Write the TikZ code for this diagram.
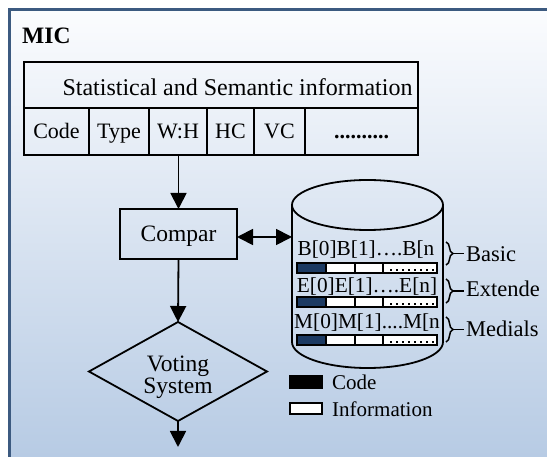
\documentclass[tikz,border=0pt]{standalone}
\usepackage{fontspec}
\setmainfont{Liberation Serif}
\usetikzlibrary{arrows.meta,shapes.geometric,decorations.pathreplacing}
\definecolor{bgtop}{RGB}{251,252,254}
\definecolor{bgbot}{RGB}{183,203,228}
\definecolor{framec}{RGB}{60,90,128}
\definecolor{navy}{RGB}{28,58,98}
\newcommand{\pxfont}[1]{\fontsize{#1}{#1}\selectfont}

\begin{document}
\begin{tikzpicture}[x=1pt,y=-1pt,
  ln/.style={line width=1.8pt},
  thin ln/.style={line width=1.5pt},
  tip/.tip={Triangle[length=16pt 0 0,width=16pt 0 0]},
  arr/.style={ln,-tip},
  darr/.style={ln,tip-tip},
  cell/.style={draw,ln,inner sep=0pt,outer sep=0pt,minimum height=47pt,
    text height=15pt,text depth=0pt,font=\pxfont{22}},
  txt/.style={inner sep=0pt,font=\pxfont{22}},
  rowtxt/.style={inner sep=0pt,anchor=base,font=\pxfont{21.3}},
  lbl/.style={inner sep=0pt,anchor=base west,font=\pxfont{22.5}},
  brc/.style={thin ln,decorate,decoration={brace,amplitude=7pt}},
  bar/.style={thin ln}]

\useasboundingbox (0,0) rectangle (547,457);
% page and shaded panel
\fill[white] (0,0) rectangle (547,457);
\shade[top color=bgtop,bottom color=bgbot] (9,10) rectangle (547,457);
\draw[framec,line width=3pt] (9,457) -- (9,10) -- (547,10);

\node[font=\bfseries\pxfont{23.5},anchor=base west,inner sep=0pt] (mic) at (22,44) {MIC};

% record layout table
\node[draw,ln,inner sep=0pt,outer sep=0pt,minimum width=394pt,minimum height=46pt,
  anchor=north west] (hdr) at (24,62) {};
\node[inner sep=0pt,anchor=base,font=\pxfont{24}] (hdrtxt) at (237.5,96)
  {Statistical and Semantic information};
\node[cell,minimum width=65pt] (ccode) at (56.5,131.5) {Code};
\node[cell,minimum width=60pt] (ctype) at (119,131.5) {Type};
\node[cell,minimum width=58pt] (cwh) at (178,131.5) {W:H};
\node[cell,minimum width=47pt] (chc) at (230.5,131.5) {HC};
\node[cell,minimum width=51pt] (cvc) at (279.5,131.5) {VC};
\node[cell,minimum width=113pt] (cmore) at (361.5,131.5) {\textbf{..........}};

% comparison and voting
\node[draw,ln,inner sep=0pt,outer sep=0pt,minimum width=117pt,minimum height=50pt,
  text height=16pt,text depth=0pt,font=\pxfont{23.5}] (compar) at (178.5,234) {Compar};
\node[diamond,draw,ln,inner sep=0pt,outer sep=0pt,minimum width=178pt,
  minimum height=99pt] (vote) at (178,371.5) {};
\node[inner sep=0pt,align=center,font=\fontsize{23.5}{22.5}\selectfont] (votetxt)
  at (178,377.5) {Voting\\System};
\coordinate (out) at (178,447);

\draw[arr] (compar.north |- cwh.south) -- (compar.north);
\draw[arr] (compar.south) -- (vote.north);
\draw[arr] (vote.south) -- (out);

% database cylinder
\draw[ln] (367.5,205) ellipse [x radius=75.5pt,y radius=25pt];
\draw[ln] (292,205) -- (292,342)
  .. controls (292,356.4) and (325.8,368) .. (367.5,368)
  .. controls (409.2,368) and (443,356.4) .. (443,342) -- (443,205);
\coordinate (dbw) at (292,237);
\draw[darr] ([yshift=-3pt]compar.east) -- (dbw);

% stored rows
\node[rowtxt] (brow) at (366,256) {B[0]B[1]….B[n};
\node[rowtxt] (erow) at (367,293) {E[0]E[1]….E[n]};
\node[rowtxt] (mrow) at (367,329) {M[0]M[1]....M[n};
\foreach \yy in {263,297,335} {
  \fill[white] (326,\yy) rectangle (437,\yy+10);
  \fill[navy] (297,\yy) rectangle (326,\yy+10);
  \draw[bar] (297,\yy) rectangle (437,\yy+10);
  \draw[bar] (326,\yy) -- (326,\yy+10);
  \draw[bar] (355,\yy) -- (355,\yy+10);
  \draw[bar] (383,\yy) -- (383,\yy+10);
  \draw[line width=1.6pt,dash pattern=on 1.6pt off 4.4pt] (390,\yy+7) -- (435,\yy+7);
}

% row groups
\node[lbl] (lbasic) at (466,262) {Basic};
\node[lbl] (lext) at (466,297) {Extende};
\node[lbl] (lmed) at (466,337) {Medials};
\draw[brc] (446,242) -- (446,265);
\draw[brc] (446,279) -- (446,303);
\draw[brc] (446,317) -- (446,342);
\coordinate (bt1) at (453,253.5);
\coordinate (bt2) at (453,291);
\coordinate (bt3) at (453,329.5);
\draw[thin ln,shorten >=2pt] (bt1) -- (bt1 -| lbasic.west);
\draw[thin ln,shorten >=2pt] (bt2) -- (bt2 -| lext.west);
\draw[thin ln,shorten >=2pt] (bt3) -- (bt3 -| lmed.west);

% legend
\node[draw,thin ln,fill=black,inner sep=0pt,minimum width=32pt,minimum height=12pt]
  (kcode) at (306,382) {};
\node[draw,thin ln,fill=white,inner sep=0pt,minimum width=32pt,minimum height=11pt]
  (kinfo) at (306,408.5) {};
\node[txt,anchor=base west,font=\pxfont{21}] (kcodet) at (332,390) {Code};
\node[txt,anchor=base west,font=\pxfont{21}] (kinfot) at (332,417) {Information};
\end{tikzpicture}
\end{document}
